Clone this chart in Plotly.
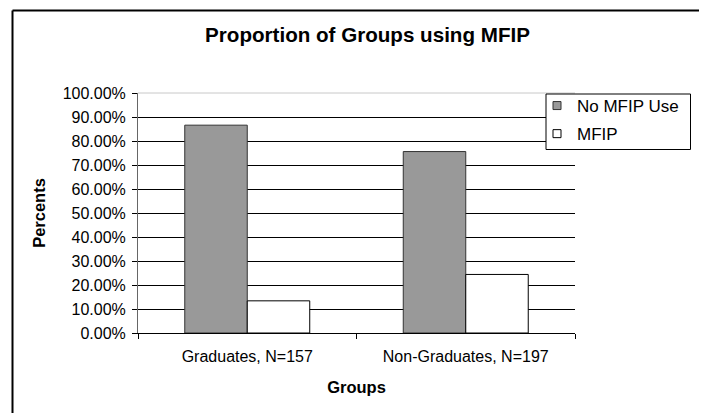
import plotly.graph_objects as go

categories = ["Graduates, N=157", "Non-Graduates, N=197"]
series_names = ["No MFIP Use", "MFIP"]
no_mfip_use = [0.866, 0.756]
mfip = [0.134, 0.244]
y_tickvals = [0, 0.1, 0.2, 0.3, 0.4, 0.5, 0.6, 0.7, 0.8, 0.9, 1.0]

FONT = "Liberation Sans, Arial, sans-serif"
OFF = 8  # page body margin
W, H = 707 - OFF, 413 - OFF
# plot area in screen pixels: x 138..575, y 93..333
L, R, T, B = 138 - OFF, W - (575 - OFF), 93 - OFF, H - (333 - OFF)
PW, PH = W - L - R, H - T - B

fig = go.Figure()
fig.add_bar(x=categories, y=no_mfip_use, name=series_names[0],
            marker=dict(color="#999999", line=dict(color="#333333", width=1)),
            showlegend=False)
fig.add_bar(x=categories, y=mfip, name=series_names[1],
            marker=dict(color="#ffffff", line=dict(color="#000000", width=1)),
            showlegend=False)
# legend proxies (small square swatches like the original)
fig.add_scatter(x=[None], y=[None], mode="markers", name=series_names[0],
                legendgroup="a",
                marker=dict(symbol="square", size=8, color="#999999",
                            line=dict(color="#333333", width=1)))
fig.add_scatter(x=[None], y=[None], mode="markers", name=series_names[1],
                legendgroup="b",
                marker=dict(symbol="square", size=8, color="#ffffff",
                            line=dict(color="#000000", width=1)))

def px_x(p):  # screen pixel -> paper x
    return (p - OFF - L) / PW

def px_y(p):  # screen pixel -> paper y
    return 1 - (p - OFF - T) / PH

shapes = [
    # top of plot area (light line at 100%)
    dict(type="line", xref="paper", yref="paper", x0=0, x1=1, y0=1, y1=1,
         line=dict(color="#c8c8c8", width=1), layer="above"),
    # outer chart frame (only left/top visible)
    dict(type="line", xref="paper", yref="paper", x0=px_x(12.5), x1=px_x(720),
         y0=px_y(10.5), y1=px_y(10.5), line=dict(color="#000000", width=2)),
    dict(type="line", xref="paper", yref="paper", x0=px_x(12.5), x1=px_x(12.5),
         y0=px_y(10.5), y1=px_y(430), line=dict(color="#000000", width=2)),
    # legend box
    dict(type="rect", xref="paper", yref="paper", x0=px_x(546), x1=px_x(690.5),
         y0=px_y(149.5), y1=px_y(94), fillcolor="white",
         line=dict(color="#000000", width=1), layer="above"),
]

fig.update_layout(
    width=W, height=H,
    margin=dict(l=L, r=R, t=T, b=B, pad=0),
    paper_bgcolor="white", plot_bgcolor="white",
    barmode="group", bargap=0.428, bargroupgap=0,
    font=dict(family=FONT, size=16, color="#000000"),
    title=dict(text="<b>Proportion of Groups using MFIP</b>",
               font=dict(family=FONT, size=20.6, color="#000000"),
               x=(367.5 - OFF) / W, xref="container", xanchor="center",
               y=1 - (35 - OFF) / H, yref="container", yanchor="middle"),
    legend=dict(x=px_x(537), y=px_y(88), xanchor="left", yanchor="top",
                bgcolor="rgba(0,0,0,0)", borderwidth=0,
                font=dict(family=FONT, size=17, color="#000000"),
                tracegroupgap=3),
    shapes=shapes,
    xaxis=dict(
        showgrid=False, showline=True, linecolor="#000000", linewidth=1,
        ticks="outside", tickson="boundaries", ticklen=5, tickcolor="#000000",
        tickfont=dict(family=FONT, size=16), ticklabelstandoff=9,
        title=dict(text="<b>Groups</b>", font=dict(family=FONT, size=16.5), standoff=17),
        range=[-0.5, 1.5], fixedrange=True,
    ),
    yaxis=dict(
        range=[0, 1.0], tickvals=y_tickvals, tickformat=".2%",
        showgrid=True, gridcolor="#000000", gridwidth=1,
        showline=True, linecolor="#666666", linewidth=1,
        ticks="outside", ticklen=5, tickcolor="#000000",
        tickfont=dict(family=FONT, size=16), ticklabelstandoff=3,
        zeroline=False,
        title=dict(text="<b>Percents</b>", font=dict(family=FONT, size=16.5), standoff=12),
        fixedrange=True,
    ),
)

fig.write_html("out.html")
